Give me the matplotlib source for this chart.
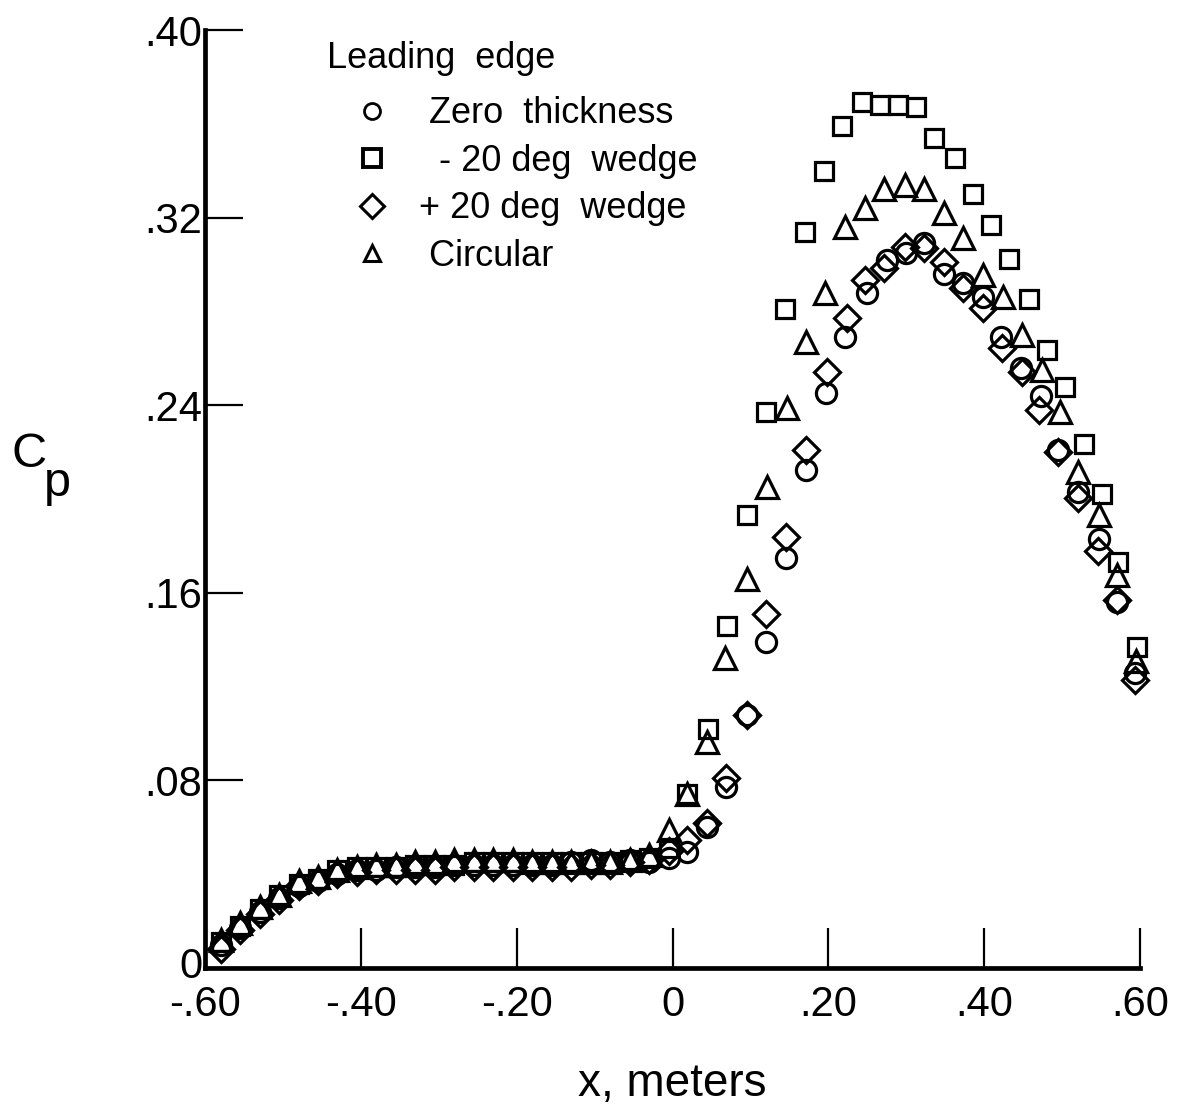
import matplotlib
matplotlib.use("Agg")
import matplotlib.pyplot as plt
import matplotlib.transforms as mtransforms
from matplotlib.lines import Line2D

plt.rcParams['font.family'] = ['Liberation Sans', 'DejaVu Sans']

# Upstream orifice stations (shared by all four runs), meters
x_upstream = [-0.58, -0.555, -0.53, -0.505, -0.48, -0.455, -0.43, -0.405,
              -0.38, -0.355, -0.33, -0.305, -0.28, -0.255, -0.23, -0.205,
              -0.18, -0.155, -0.13, -0.105, -0.08, -0.055, -0.03, -0.005]

cp_zero_up = [0.010, 0.017, 0.024, 0.030, 0.035, 0.037, 0.040, 0.042,
              0.042, 0.043, 0.043, 0.043, 0.044, 0.044, 0.044, 0.044,
              0.044, 0.044, 0.045, 0.046, 0.045, 0.046, 0.045, 0.047]
cp_minus_up = [0.011, 0.018, 0.025, 0.031, 0.036, 0.038, 0.042, 0.043,
               0.043, 0.043, 0.044, 0.044, 0.044, 0.045, 0.045, 0.045,
               0.045, 0.045, 0.045, 0.045, 0.045, 0.046, 0.047, 0.051]
cp_plus_up = [0.008, 0.016, 0.023, 0.029, 0.035, 0.037, 0.040, 0.041,
              0.042, 0.042, 0.042, 0.042, 0.043, 0.043, 0.043, 0.043,
              0.043, 0.043, 0.043, 0.044, 0.044, 0.045, 0.046, 0.050]
cp_circ_up = [0.012, 0.019, 0.026, 0.031, 0.037, 0.039, 0.042, 0.043,
              0.044, 0.044, 0.045, 0.045, 0.046, 0.046, 0.046, 0.046,
              0.045, 0.045, 0.045, 0.045, 0.045, 0.046, 0.048, 0.059]

# Downstream stations for each leading edge
x_zero_dn = [0.019, 0.044, 0.069, 0.095, 0.120, 0.146, 0.171, 0.197,
             0.222, 0.249, 0.275, 0.300, 0.323, 0.349, 0.373, 0.399,
             0.422, 0.447, 0.473, 0.495, 0.521, 0.547, 0.571, 0.594]
cp_zero_dn = [0.0495, 0.060, 0.077, 0.108, 0.139, 0.175, 0.2125, 0.245,
              0.269, 0.288, 0.302, 0.305, 0.309, 0.296, 0.292, 0.286,
              0.269, 0.256, 0.244, 0.221, 0.203, 0.183, 0.156, 0.126]

x_minus_dn = [0.019, 0.046, 0.070, 0.096, 0.120, 0.144, 0.170, 0.194,
              0.217, 0.243, 0.266, 0.290, 0.313, 0.336, 0.362, 0.386,
              0.409, 0.432, 0.458, 0.481, 0.504, 0.528, 0.551, 0.572, 0.596]
cp_minus_dn = [0.074, 0.102, 0.146, 0.193, 0.237, 0.281, 0.314, 0.340,
               0.359, 0.3695, 0.368, 0.368, 0.367, 0.354, 0.3456, 0.330,
               0.317, 0.3025, 0.2854, 0.2637, 0.2479, 0.2236, 0.2022, 0.1732, 0.137]

x_plus_dn = [0.019, 0.044, 0.069, 0.095, 0.120, 0.146, 0.171, 0.198,
             0.224, 0.247, 0.272, 0.298, 0.323, 0.349, 0.373, 0.399,
             0.423, 0.449, 0.470, 0.495, 0.521, 0.546, 0.571, 0.594]
cp_plus_dn = [0.0546, 0.062, 0.081, 0.108, 0.151, 0.184, 0.221, 0.254,
              0.277, 0.2935, 0.2987, 0.3076, 0.307, 0.301, 0.290, 0.2816,
              0.2645, 0.254, 0.238, 0.220, 0.2005, 0.178, 0.157, 0.123]

x_circ_dn = [0.019, 0.044, 0.068, 0.095, 0.121, 0.147, 0.171, 0.196,
             0.222, 0.247, 0.272, 0.298, 0.323, 0.349, 0.373, 0.399,
             0.424, 0.449, 0.474, 0.497, 0.521, 0.547, 0.571, 0.595]
cp_circ_dn = [0.074, 0.0965, 0.132, 0.166, 0.205, 0.239, 0.267, 0.288,
              0.316, 0.324, 0.332, 0.334, 0.332, 0.322, 0.3115, 0.2957,
              0.286, 0.270, 0.255, 0.237, 0.2116, 0.193, 0.1677, 0.131]

series_labels = [" Zero  thickness", "  - 20 deg  wedge", "+ 20 deg  wedge", " Circular"]

x_ticks = [-0.6, -0.4, -0.2, 0.0, 0.2, 0.4, 0.6]
x_ticklabels = ["-.60", "-.40", "-.20", "0", ".20", ".40", ".60"]
y_ticks = [0.0, 0.08, 0.16, 0.24, 0.32, 0.40]
y_ticklabels = ["0", ".08", ".16", ".24", ".32", ".40"]

W, H = 1179, 1116
fig = plt.figure(figsize=(W / 100, H / 100), dpi=100)
ax = fig.add_axes([205 / W, 1 - 968 / H, (1140 - 205) / W, (968 - 30) / H])

style = dict(ls="none", mfc="none", mec="black", mew=2.3, clip_on=False)
ax.plot(x_upstream + x_zero_dn, cp_zero_up + cp_zero_dn, marker="o", ms=14.5, **style)
ax.plot(x_upstream + x_minus_dn, cp_minus_up + cp_minus_dn, marker="s", ms=13.0, **style)
ax.plot(x_upstream + x_plus_dn, cp_plus_up + cp_plus_dn, marker="D", ms=13.0, **style)
ax.plot(x_upstream + x_circ_dn, cp_circ_up + cp_circ_dn, marker="^", ms=16.0, **style)

ax.set_xlim(-0.6, 0.6)
ax.set_ylim(0.0, 0.40)
ax.set_xticks(x_ticks)
ax.set_xticklabels(x_ticklabels)
ax.set_yticks(y_ticks)
ax.set_yticklabels(y_ticklabels)

for side in ("top", "right"):
    ax.spines[side].set_visible(False)
for side in ("left", "bottom"):
    ax.spines[side].set_linewidth(3.4)

ax.tick_params(axis="both", direction="in", width=1.6, labelsize=30, colors="black")
ax.tick_params(axis="x", length=29, pad=12)
ax.tick_params(axis="y", length=27, pad=2)

# lift the "0" on the Cp axis slightly clear of the x tick labels
zero_label = ax.get_yticklabels()[0]
zero_label.set_transform(zero_label.get_transform()
                         + mtransforms.ScaledTranslation(0, 6 / 100, fig.dpi_scale_trans))

ax.set_xlabel("x, meters", fontsize=33)
ax.xaxis.set_label_coords(0.5, -0.100)

fig.text(29 / W, 1 - 455 / H, "C", fontsize=35, ha="center", va="center")
fig.text(57 / W, 1 - 484 / H, "p", fontsize=35, ha="center", va="center")

handles = [
    Line2D([], [], ls="none", marker="o", ms=11.5, mfc="none", mec="black", mew=2.0),
    Line2D([], [], ls="none", marker="s", ms=12.5, mfc="none", mec="black", mew=2.8),
    Line2D([], [], ls="none", marker="D", ms=12.5, mfc="none", mec="black", mew=2.2),
    Line2D([], [], ls="none", marker="^", ms=11.5, mfc="none", mec="black", mew=2.2),
]
leg = ax.legend(handles, series_labels, title="Leading  edge", loc="upper left",
                bbox_to_anchor=(327 / W, 1 - 49 / H), bbox_transform=fig.transFigure,
                frameon=False, fontsize=26, title_fontsize=26, alignment="left",
                borderpad=0, borderaxespad=0, handlelength=2.5, handletextpad=0.05,
                labelspacing=0.345, numpoints=1)
# give the heading a little more room above the entries
title = leg.get_title()
title.set_transform(title.get_transform()
                    + mtransforms.ScaledTranslation(0, 8 / 100, fig.dpi_scale_trans))

fig.savefig("out.png", dpi=100, facecolor="white")
